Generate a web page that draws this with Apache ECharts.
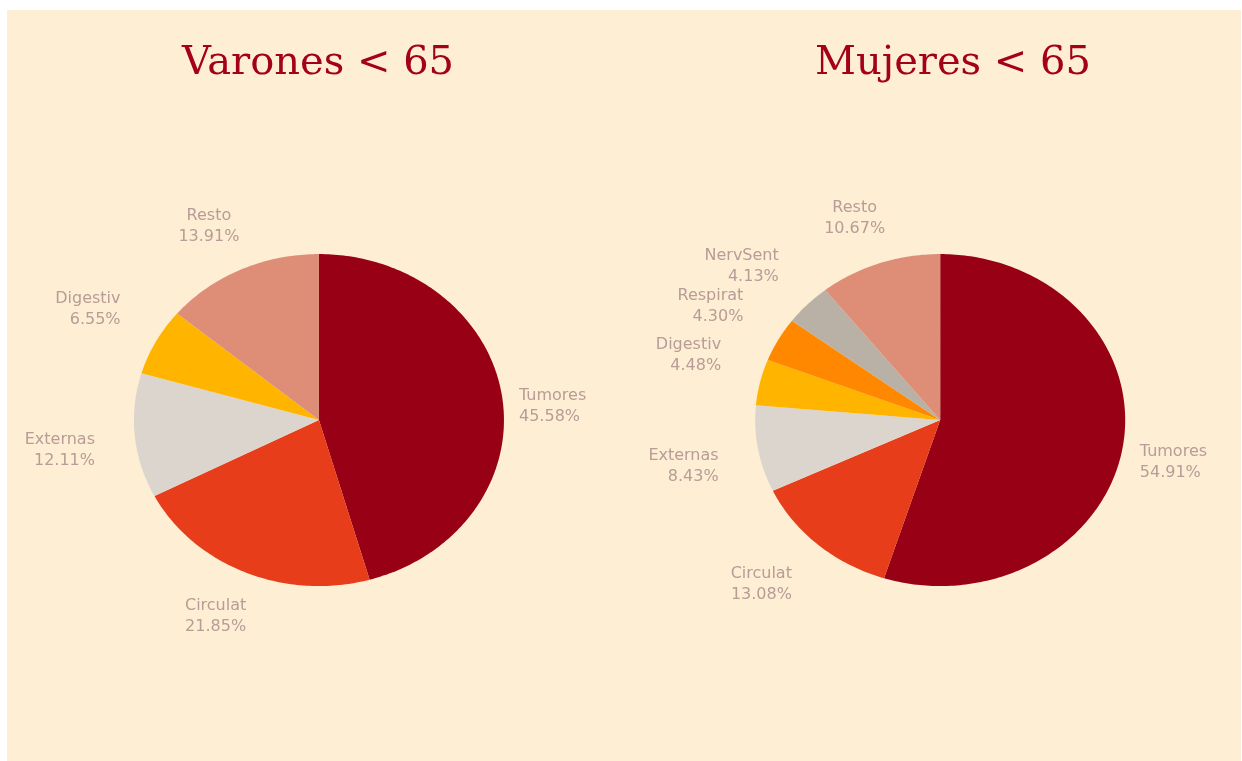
<!DOCTYPE html>
<html>
<head>
<meta charset="utf-8">
<script src="https://cdn.jsdelivr.net/npm/echarts@6/dist/echarts.min.js"></script>
<style>
  html, body { margin: 0; padding: 0; background: #fff; }
  #chart { width: 1242px; height: 761px; }
</style>
</head>
<body>
<div id="chart"></div>
<script>
// datos
const titles = ["Varones < 65", "Mujeres < 65"];
const menNames = ["Tumores", "Circulat", "Externas", "Digestiv", "Resto"];
const menValues = [45.58, 21.85, 12.11, 6.55, 13.91];
const womenNames = ["Tumores", "Circulat", "Externas", "Digestiv", "Respirat", "NervSent", "Resto"];
const womenValues = [54.91, 13.08, 8.43, 4.48, 4.30, 4.13, 10.67];

const colorMap = {
  Tumores: "#970015",
  Circulat: "#E83D1A",
  Externas: "#DCD5CD",
  Digestiv: "#FFB400",
  Respirat: "#FF8800",
  NervSent: "#B9B1A6",
  Resto: "#DE8E77"
};

const chart = echarts.init(document.getElementById("chart"));

// pie elíptico (como Excel), dibujado con una serie custom
function ellipsePie(names, values, cxRatio) {
  const total = values.reduce((a, b) => a + b, 0);
  const starts = [];
  let acc = 0;
  values.forEach(v => { starts.push(acc); acc += v; });
  return {
    type: "custom",
    coordinateSystem: "none",
    silent: true,
    data: values.map((v, i) => [v, i]),
    renderItem: (params, api) => {
      const i = params.dataIndex;
      const w = api.getWidth(), h = api.getHeight();
      const cx = w * cxRatio, cy = h * 0.552;
      const rx = 185, ry = 166;
      const a0 = starts[i] / total * Math.PI * 2;
      const a1 = (starts[i] + api.value(0)) / total * Math.PI * 2;
      const pts = [[cx, cy]];
      const n = Math.max(4, Math.ceil((a1 - a0) * 60));
      for (let k = 0; k <= n; k++) {
        const a = a0 + (a1 - a0) * k / n;
        pts.push([cx + rx * Math.sin(a), cy - ry * Math.cos(a)]);
      }
      // etiqueta fuera del borde
      const am = (a0 + a1) / 2;
      const s = Math.sin(am), c = Math.cos(am);
      const align = s > 0.45 ? "left" : (s < -0.45 ? "right" : "center");
      const padX = align === "left" ? 17 : (align === "right" ? 40 : 75);
      const padY = 25;
      const lx = cx + (rx + padX) * s, ly = cy - (ry + padY) * c;
      const blockH = 42;
      const f = c > 0.2 ? 1 : (c < -0.5 ? 0 : 0.2);
      return {
        type: "group",
        children: [
          {
            type: "polygon",
            shape: { points: pts },
            style: { fill: colorMap[names[i]], stroke: null }
          },
          {
            type: "text",
            x: lx,
            y: ly - blockH * f,
            style: {
              text: names[i] + "\n" + api.value(0).toFixed(2) + "%",
              fill: "#B89C97",
              font: '16px "DejaVu Sans"',
              lineHeight: 21,
              align: align,
              verticalAlign: "top"
            }
          }
        ]
      };
    }
  };
}

const option = {
  backgroundColor: "#ffffff",
  animation: false,
  graphic: [
    {
      type: "rect",
      shape: { x: 7, y: 10, width: 1234, height: 751 },
      style: { fill: "#FEEED4" },
      z: -10
    }
  ],
  title: [
    {
      text: titles[0],
      left: 313,
      top: 39,
      textAlign: "center",
      textStyle: { fontFamily: "DejaVu Serif", fontSize: 40, fontWeight: "normal", color: "#A3001C" }
    },
    {
      text: titles[1],
      left: 948,
      top: 39,
      textAlign: "center",
      textStyle: { fontFamily: "DejaVu Serif", fontSize: 40, fontWeight: "normal", color: "#A3001C" }
    }
  ],
  series: [
    ellipsePie(menNames, menValues, 0.2568),
    ellipsePie(womenNames, womenValues, 0.757)
  ]
};

chart.setOption(option);
</script>
</body>
</html>
